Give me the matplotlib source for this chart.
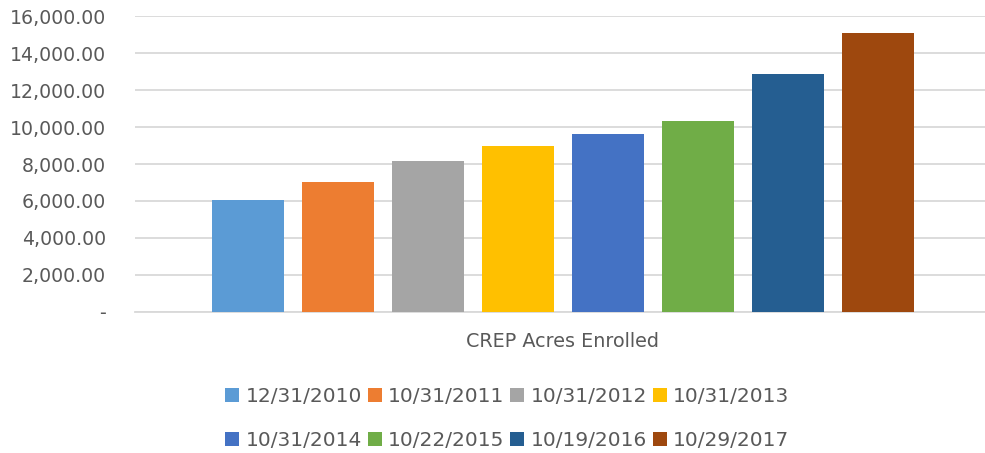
import matplotlib
matplotlib.use('Agg')
from matplotlib import pyplot as plt
from matplotlib.ticker import FuncFormatter

fechas = ['12/31/2010', '10/31/2011', '10/31/2012', '10/31/2013',
          '10/31/2014', '10/22/2015', '10/19/2016', '10/29/2017']
acres = [6055, 7030, 8170, 8980, 9630, 10340, 12880, 15100]
colores = ['#5B9BD5', '#ED7D31', '#A5A5A5', '#FFC000',
           '#4472C4', '#70AD47', '#255E91', '#9E480E']
categoria = 'CREP Acres Enrolled'

plt.rcParams['font.family'] = 'DejaVu Sans'
gris = '#595959'

fig = plt.figure(figsize=(9.85, 4.53), dpi=100)
ax = fig.add_axes([0.137, 0.312, 0.867, 0.6516])

barras = []
for i in range(len(acres)):
    b = ax.bar(i, acres[i], width=0.8, color=colores[i], label=fechas[i], zorder=3)
    barras.append(b)

ax.set_ylim(0, 16000)
ax.set_yticks(range(0, 16001, 2000))
ax.yaxis.set_major_formatter(FuncFormatter(lambda v, p: '-' if v == 0 else f'{v:,.2f}'))
ax.set_xlim(-1.256, 8.233)
ax.set_xticks([3.5])
ax.set_xticklabels([categoria])
ax.grid(axis='y', color='#D9D9D9', linewidth=1.3, zorder=0)
for s in ['top', 'right', 'left']:
    ax.spines[s].set_visible(False)
ax.spines['bottom'].set_color('#D9D9D9')
ax.spines['bottom'].set_linewidth(1.3)
ax.tick_params(axis='both', length=0, labelsize=13.6, colors=gris)
ax.tick_params(axis='y', pad=21)
ax.tick_params(axis='x', pad=15, labelsize=13.8)

# legend filled row by row
orden = [0, 4, 1, 5, 2, 6, 3, 7]
fig.legend([barras[k] for k in orden], [fechas[k] for k in orden],
           loc='center', bbox_to_anchor=(0.515, 0.076), ncol=4, frameon=False,
           fontsize=14.5, labelcolor=gris, handlelength=0.7, handleheight=0.7,
           handletextpad=0.3, columnspacing=0.3, labelspacing=1.25)

plt.savefig('out.png', dpi=100)
